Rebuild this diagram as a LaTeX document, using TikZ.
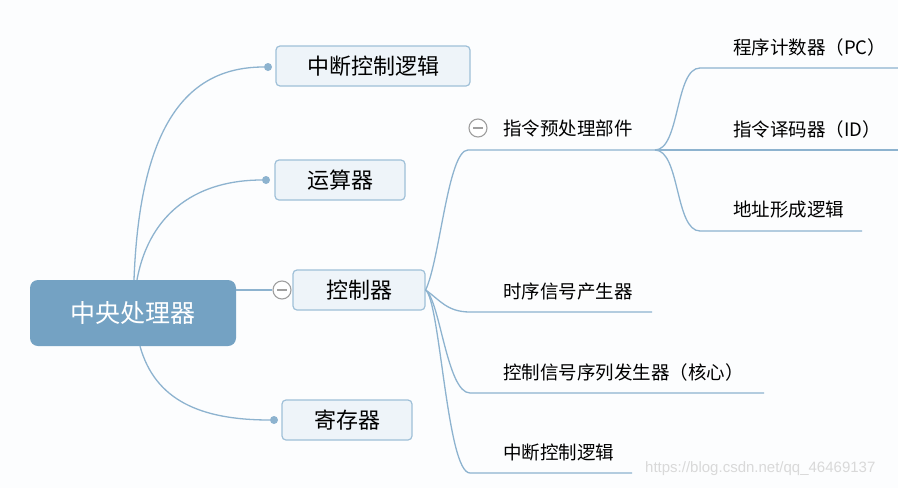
\documentclass[tikz,border=0pt]{standalone}
\usepackage{fontspec}
\usepackage{tikz}
\newfontfamily\cjk{Noto Sans CJK SC}
\newfontfamily\wmfont{Liberation Sans}
\definecolor{rootblue}{HTML}{74A2C3}
\definecolor{linkblue}{HTML}{8DB3CF}
\definecolor{boxfill}{HTML}{EEF4F9}
\definecolor{boxline}{HTML}{9FC0D8}
\definecolor{pagebg}{HTML}{FCFDFE}

\begin{document}
\begin{tikzpicture}[x=1pt,y=-1pt,
   root/.style={rectangle,rounded corners=8pt,fill=rootblue,text=white,font=\cjk\fontsize{25}{25}\selectfont,minimum width=206pt,minimum height=66pt},
   topic/.style={rectangle,rounded corners=4pt,draw=boxline,fill=boxfill,line width=1.2pt,font=\cjk\fontsize{22}{22}\selectfont,minimum height=40pt},
   dot/.style={circle,fill=linkblue,inner sep=0pt,minimum size=8pt},
   fold/.style={circle,draw=gray!75,fill=white,line width=1.1pt,minimum size=18pt,inner sep=0pt,
      path picture={\draw[gray!75,line width=1.1pt] ([xshift=-5pt]path picture bounding box.center) -- ([xshift=5pt]path picture bounding box.center);}},
   leaf/.style={font=\cjk\fontsize{18.5}{18.5}\selectfont,anchor=west,inner sep=0pt},
   link/.style={draw=linkblue,line width=1.3pt}]
\useasboundingbox (0,0) rectangle (898,488);
\fill[pagebg] (0,0) rectangle (898,488);

% main topics
\node[root] (cpu) at (133,313) {中央处理器};
\node[topic,minimum width=194pt] (intr) at (373,66) {中断控制逻辑};
\node[topic,minimum width=130pt] (alu) at (340,180) {运算器};
\node[topic,minimum width=132pt] (ctrl) at (359,290) {控制器};
\node[topic,minimum width=130pt] (reg) at (347,420) {寄存器};
\node[dot] (intrdot) at (268,67) {};
\node[dot] (aludot) at (266,180) {};
\node[dot] (regdot) at (274,420) {};
\node[fold] (ctrlfold) at (282,290) {};

\draw[link] ([xshift=1pt]cpu.north) .. controls (140,120) and (190,67) .. (intrdot);
\draw[link] ([xshift=4pt]cpu.north) .. controls (150,210) and (200,180) .. (aludot);
\draw[link] (cpu.east |- ctrlfold.west) -- (ctrlfold.west);
\draw[link] ([xshift=7pt]cpu.south) .. controls (155,400) and (200,420) .. (regdot);

% controller branch
\node[fold] (prepfold) at (478,128) {};
\node[leaf] (prep) at (503,128) {指令预处理部件};
\coordinate (prepL) at (468,150);
\coordinate (prepR) at (655,150);
\draw[link] (ctrl.east) .. controls (440,260) and (448,150) .. (prepL) -- (prepR);

\foreach \y/\e/\n/\t in {312/652/timing/时序信号产生器,393/764/signal/控制信号序列发生器（核心）,473/632/intrlogic/中断控制逻辑} {
   \node[leaf] (\n) at (503,\y-21) {\t};
   \coordinate (\n L) at (470,\y);
   \coordinate (\n R) at (\e,\y);
   \draw[link] (ctrl.east) .. controls (440,300) and (447,\y) .. (\n L) -- (\n R);
}

% pre-processing branch
\foreach \y/\e/\n/\t in {68/898/pc/程序计数器（PC）,150/898/id/指令译码器（ID）,231/862/addr/地址形成逻辑} {
   \node[leaf] (\n) at (733,\y-21) {\t};
   \coordinate (\n L) at (700,\y);
   \coordinate (\n R) at (\e,\y);
   \draw[link] (prepR) .. controls (680,150) and (675,\y) .. (\n L) -- (\n R);
}

\node[font=\wmfont\fontsize{15}{15}\selectfont,text=gray!30,anchor=west,inner sep=0pt] (wm) at (645,469) {https://blog.csdn.net/qq\_46469137};
\end{tikzpicture}
\end{document}
